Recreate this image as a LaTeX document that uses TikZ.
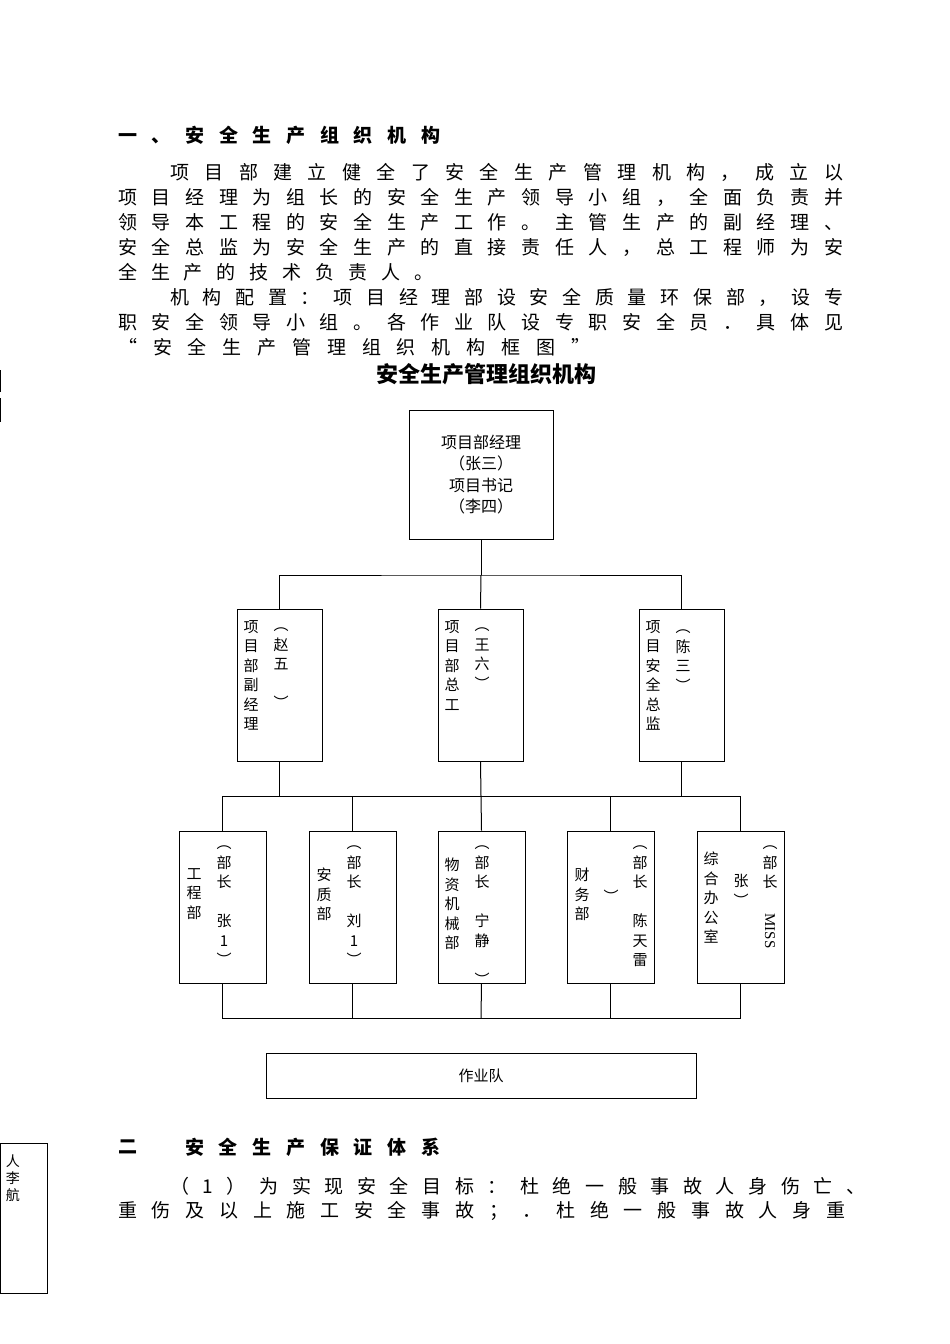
\documentclass[tikz,border=0pt]{standalone}
\usepackage{fontspec}
\setmainfont{Noto Sans CJK SC}
\newfontfamily\latinf{Liberation Serif}
\def\sprA#1{\ifx#1\relax\else#1\hfil\expandafter\sprA\fi}
\newcommand\spr[2]{\makebox[#1][s]{\sprA#2\relax\unskip}}
\def\vtA#1{\ifx#1\relax\else#1\par\expandafter\vtA\fi}
\newcommand\vt[1]{\vtA#1\relax}
\tikzset{
 bx/.style={draw,line width=1pt,inner sep=0pt},
 ln/.style={line width=1pt},
 col/.style={anchor=north,inner sep=0pt,text width=16pt,align=center,font=\fontsize{15}{19.5}\selectfont},
 para/.style={anchor=west,inner sep=0pt,font=\fontsize{19}{22}\selectfont},
}
\begin{document}
\begin{tikzpicture}[x=1pt,y=-1pt]
\useasboundingbox (0,0) rectangle (950,1344);
% paragraphs
\node[para,font=\fontsize{19}{22}\bfseries\selectfont] (h1) at (118,135) {\spr{322pt}{一、安全生产组织机构}};
\node[para] (p1) at (170,172) {\spr{673pt}{项目部建立健全了安全生产管理机构，成立以}};
\node[para] (p2) at (118,197) {\spr{725pt}{项目经理为组长的安全生产领导小组，全面负责并}};
\node[para] (p3) at (118,222) {\spr{725pt}{领导本工程的安全生产工作。主管生产的副经理、}};
\node[para] (p4) at (118,247) {\spr{725pt}{安全总监为安全生产的直接责任人，总工程师为安}};
\node[para] (p5) at (118,272) {\spr{315pt}{全生产的技术负责人。}};
\node[para] (p6) at (170,297) {\spr{673pt}{机构配置：项目经理部设安全质量环保部，设专}};
\node[para] (p7) at (118,322) {\spr{725pt}{职安全领导小组。各作业队设专职安全员．具体见}};
\node[para] (p8) at (118,347) {\spr{472pt}{“安全生产管理组织机构框图”}};
% title
\node[inner sep=0pt,font=\fontsize{22}{24}\bfseries\selectfont] (title) at (486,374) {安全生产管理组织机构};
\node[inner sep=0pt,font=\fontsize{9}{10}\selectfont] (tri1) at (213,381) {\latinf ▶};
\node[inner sep=0pt,font=\fontsize{9}{10}\selectfont] (tri2) at (213,409) {\latinf ▶};
\draw[ln] (0.5,370) -- (0.5,392);
\draw[ln] (0.5,398) -- (0.5,422);
% top box
\node[bx,minimum width=144pt,minimum height=129pt,align=center,font=\fontsize{16}{21.5}\selectfont] (top) at (481,474.5) {项目部经理\\（张三）\\项目书记\\（李四）};
% tier 2
\node[bx,minimum width=85pt,minimum height=152pt] (b1) at (279.5,685) {};
\node[bx,minimum width=85pt,minimum height=152pt] (b2) at (480.5,685) {};
\node[bx,minimum width=85pt,minimum height=152pt] (b3) at (681.5,685) {};
\node[col] (b1a) at (251,620) {\vt{项目部副经理}};
\node[col] (b1b) at (281,628) {\vt{︵赵五\quad ︶}};
\node[col] (b2a) at (452,620) {\vt{项目部总工}};
\node[col] (b2b) at (482,628) {\vt{︵王六︶}};
\node[col] (b3a) at (653,620) {\vt{项目安全总监}};
\node[col] (b3b) at (683,630) {\vt{︵陈三︶}};
% tier 3
\node[bx,minimum width=87pt,minimum height=152pt] (c1) at (222.5,907) {};
\node[bx,minimum width=87pt,minimum height=152pt] (c2) at (352.5,907) {};
\node[bx,minimum width=87pt,minimum height=152pt] (c3) at (481.5,907) {};
\node[bx,minimum width=87pt,minimum height=152pt] (c4) at (610.5,907) {};
\node[bx,minimum width=87pt,minimum height=152pt] (c5) at (740.5,907) {};
\node[col] (c1a) at (194,868) {\vt{工程部}};
\node[col] (c1b) at (224,846) {\vt{︵部长\quad 张1︶}};
\node[col] (c2a) at (324,868) {\vt{安质部}};
\node[col] (c2b) at (354,846) {\vt{︵部长\quad 刘1︶}};
\node[col] (c3a) at (452,858) {\vt{物资机械部}};
\node[col] (c3b) at (482,846) {\vt{︵部长\quad 宁静\quad ︶}};
\node[col] (c4a) at (582,868) {\vt{财务部}};
\node[col] (c4m) at (611,890) {\vt{︶}};
\node[col] (c4b) at (640,846) {\vt{︵部长\quad 陈天雷}};
\node[col] (c5a) at (711,852) {\vt{综合办公室}};
\node[col] (c5m) at (741,874) {\vt{张︶}};
\node[col] (c5b) at (770,846) {\vt{︵部长}};
\node[inner sep=0pt,rotate=-90,font=\fontsize{15}{16}\latinf] (c5c) at (770,931) {MISS};
% bottom box
\node[bx,minimum width=430pt,minimum height=45pt,font=\fontsize{15}{16}\selectfont] (team) at (481,1075.5) {作业队};
% connectors
\coordinate (j1) at (481,575);
\draw[ln] (top.south) -- (j1);
\draw[ln] (b1.north) |- (j1) -| (b3.north);
\draw[ln] (j1) -- (b2.north);
\coordinate (j2) at (481,796);
\draw[ln] (b1.south) -- (b1.south |- j2);
\draw[ln] (b2.south) -- (j2);
\draw[ln] (b3.south) -- (b3.south |- j2);
\draw[ln] (c1.north) |- (j2) -| (c5.north);
\draw[ln] (j2) -- (c3.north);
\draw[ln] (c2.north) -- (c2.north |- j2);
\draw[ln] (c4.north) -- (c4.north |- j2);
\coordinate (j3) at (481,1018);
\draw[ln] (c1.south) |- (j3) -| (c5.south);
\draw[ln] (c3.south) -- (j3);
\draw[ln] (c2.south) -- (c2.south |- j3);
\draw[ln] (c4.south) -- (c4.south |- j3);
% section 2
\node[para,font=\fontsize{19}{22}\bfseries\selectfont] (h2a) at (118,1147) {二};
\node[para,font=\fontsize{19}{22}\bfseries\selectfont] (h2b) at (185,1147) {\spr{255pt}{安全生产保证体系}};
\node[para] (q1) at (170,1186) {\spr{695pt}{（1）为实现安全目标：杜绝一般事故人身伤亡、}};
\node[para] (q2) at (118,1211) {\spr{727pt}{重伤及以上施工安全事故；．杜绝一般事故人身重}};
% side box
\node[bx,minimum width=47pt,minimum height=150pt] (side) at (23.5,1218) {};
\node[col,font=\fontsize{14}{17}\selectfont] (sidet) at (13,1155) {\vt{人李航}};
\end{tikzpicture}
\end{document}
